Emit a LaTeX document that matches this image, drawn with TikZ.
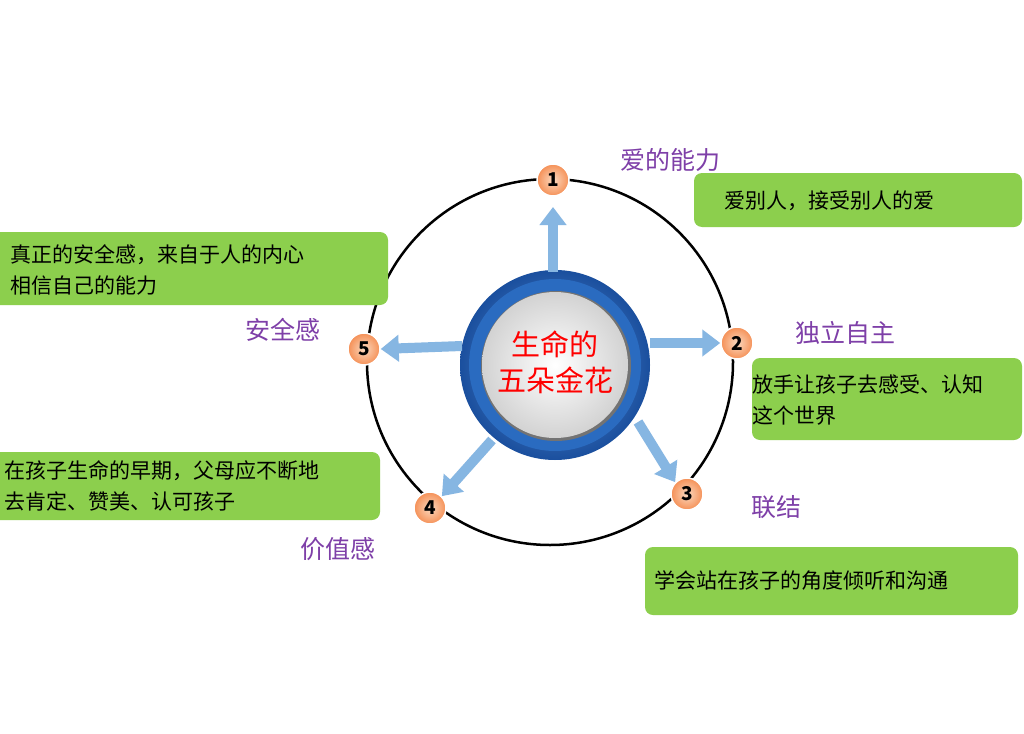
\documentclass[tikz,border=0pt]{standalone}
\usepackage{fontspec}
\setmainfont{Noto Sans CJK SC}
\usetikzlibrary{arrows.meta}
\definecolor{gbox}{HTML}{8CCF4D}
\definecolor{purp}{HTML}{7E3FA8}
\definecolor{arr}{HTML}{86B6E2}
\definecolor{ring}{HTML}{2A6BC0}
\definecolor{ringd}{HTML}{1A4F9E}
\definecolor{badgec}{HTML}{F4A060}
\begin{document}
\begin{tikzpicture}[x=1pt,y=-1pt,
  badge/.style={circle,draw=white,line width=1.5pt,minimum size=32pt,inner sep=0pt,inner color=badgec!40,outer color=badgec!90!red,font=\fontsize{19}{19}\selectfont\bfseries},
  btxt/.style={font=\fontsize{21}{31}\selectfont,align=left,inner sep=0pt,anchor=west},
  lab/.style={text=purp,font=\fontsize{25}{25}\selectfont},
  bigarr/.style={-{Triangle[length=18pt,width=26pt]},line width=10pt,draw=arr}]
\useasboundingbox (0,0) rectangle (1024,733);
\fill[white] (0,0) rectangle (1024,733);
\draw[line width=2.5pt] (550,362) circle (183);
% center disc
\shade[inner color=ring!70!white, outer color=ringd] (555,365) circle (95);
\fill[ring] (555,365) circle (86);
\fill[black!55] (556,366) circle (75);
\shade[inner color=white, outer color=gray!35] (555,365) circle (73);
\node[text=red,align=center,font=\fontsize{29}{36}\selectfont] (c) at (555,362) {生命的\\五朵金花};
% badges
\node[badge,shade] (b1) at (553,180) {1};
\node[badge,shade] (b2) at (737,343) {2};
\node[badge,shade] (b3) at (687,494) {3};
\node[badge,shade] (b4) at (430,508) {4};
\node[badge,shade] (b5) at (364,349) {5};
% arrows
\coordinate (a1) at (553,272); \coordinate (a2) at (650,343);
\coordinate (a3) at (638,422); \coordinate (a4) at (492,440);
\coordinate (a5) at (462,346);
\draw[bigarr] (a1) -- (553,207);
\draw[bigarr] (a2) -- (b2.west);
\draw[bigarr] (a3) -- (b3.north west);
\draw[bigarr] (a4) -- (b4.north east);
\draw[bigarr] (a5) -- (b5.east);
% boxes
\fill[gbox,rounded corners=8pt] (694,173) rectangle (1022,227);
\node[btxt] (t1) at (724,201) {爱别人，接受别人的爱};
\fill[gbox,rounded corners=8pt] (752,358) rectangle (1022,440);
\node[btxt] (t2) at (752,400) {放手让孩子去感受、认知\\这个世界};
\fill[gbox,rounded corners=8pt] (645,547) rectangle (1018,615);
\node[btxt] (t3) at (654,581) {学会站在孩子的角度倾听和沟通};
\fill[gbox,rounded corners=8pt] (-10,452) rectangle (380,520);
\node[btxt] (t4) at (4,486) {在孩子生命的早期，父母应不断地\\去肯定、赞美、认可孩子};
\fill[gbox,rounded corners=8pt] (-10,232) rectangle (388,305);
\node[btxt] (t5) at (10,270) {真正的安全感，来自于人的内心\\相信自己的能力};
% labels
\node[lab] (l1) at (670,160) {爱的能力};
\node[lab] (l2) at (845,333) {独立自主};
\node[lab] (l3) at (776,507) {联结};
\node[lab] (l4) at (338,549) {价值感};
\node[lab] (l5) at (283,330) {安全感};
\end{tikzpicture}
\end{document}
